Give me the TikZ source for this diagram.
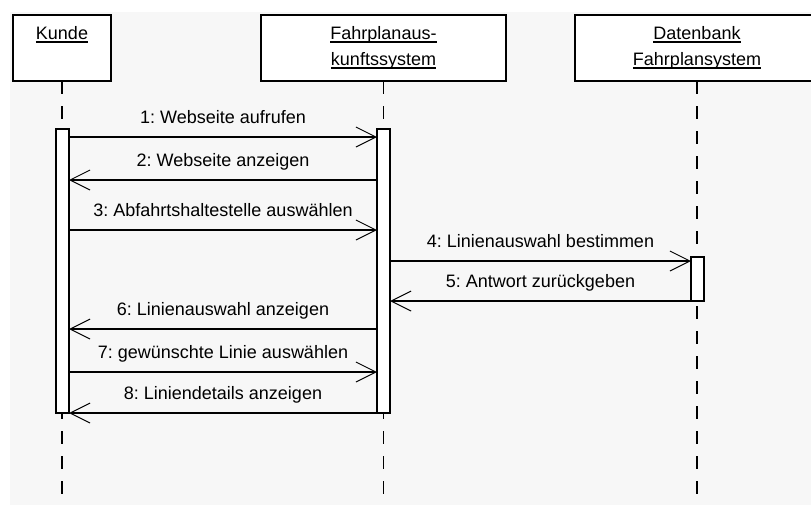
\documentclass[tikz,border=0pt]{standalone}
\usepackage{fontspec}
\setmainfont{Liberation Sans}
\usetikzlibrary{arrows.meta}
\frenchspacing

% underline a bit under the baseline, as in the tool's output
\newcommand{\objname}[1]{\setbox0\hbox{#1}\rlap{\rule[-3pt]{\wd0}{1.2pt}}\box0}

\begin{document}
\begin{tikzpicture}[x=1pt, y=-1pt,
    every node/.style={font=\fontsize{18}{26}\selectfont},
    obj/.style={draw, line width=1.5pt, fill=white, minimum height=66pt, align=center, inner sep=0pt, outer sep=0pt},
    act/.style={draw, line width=1.5pt, fill=white, minimum width=13pt, inner sep=0pt, outer sep=0pt},
    lifeline/.style={line width=1.3pt, dash pattern=on 13pt off 12pt},
    msg/.style={line width=1.3pt, -{Straight Barb[length=20pt, width=20pt, line width=1pt]}},
    msgtext/.style={midway, anchor=base, yshift=14pt}]
    % page and background
    \useasboundingbox (0,0) rectangle (811,504);
    \clip (0,0) rectangle (811,504);
    \fill[white] (0,0) rectangle (811,504);
    \fill[gray!6] (10,12) rectangle (830,530);
    \coordinate (bottom) at (0,530);

    % objects
    \node[obj, minimum width=98pt] (kunde) at (62,48) {\objname{Kunde}\\\vphantom{y}};
    \node[obj, minimum width=245pt] (fahrplan) at (383.5,48) {\objname{Fahrplanaus-}\\\objname{kunftssystem}};
    \node[obj, minimum width=244pt] (datenbank) at (697,48) {\objname{Datenbank}\\\objname{Fahrplansystem}};

    % lifelines
    \draw[lifeline] (kunde.south) -- (kunde.south |- bottom);
    \draw[lifeline] (fahrplan.south) -- (fahrplan.south |- bottom);
    \draw[lifeline] (datenbank.south) -- (datenbank.south |- bottom);

    % activations
    \node[act, minimum height=284pt] (kact) at (62.5,271) {};
    \node[act, minimum height=284pt] (fact) at (383.5,271) {};
    \node[act, minimum height=44pt] (dact) at (697.5,279) {};

    % messages
    \foreach \n/\y in {1/137, 2/180, 3/230, 4/261, 5/301, 6/329, 7/372, 8/413}
        \coordinate (m\n) at (0,\y);
    \draw[msg] (kact.east |- m1) -- node[msgtext] {1: Webseite aufrufen} (fact.west |- m1);
    \draw[msg] (fact.west |- m2) -- node[msgtext] {2: Webseite anzeigen} (kact.east |- m2);
    \draw[msg] (kact.east |- m3) -- node[msgtext] {3: Abfahrtshaltestelle auswählen} (fact.west |- m3);
    \draw[msg] (fact.east |- m4) -- node[msgtext] {4: Linienauswahl bestimmen} (dact.west |- m4);
    \draw[msg] (dact.west |- m5) -- node[msgtext] {5: Antwort zurückgeben} (fact.east |- m5);
    \draw[msg] (fact.west |- m6) -- node[msgtext] {6: Linienauswahl anzeigen} (kact.east |- m6);
    \draw[msg] (kact.east |- m7) -- node[msgtext] {7: gewünschte Linie auswählen} (fact.west |- m7);
    \draw[msg] (fact.west |- m8) -- node[msgtext] {8: Liniendetails anzeigen} (kact.east |- m8);
\end{tikzpicture}
\end{document}
